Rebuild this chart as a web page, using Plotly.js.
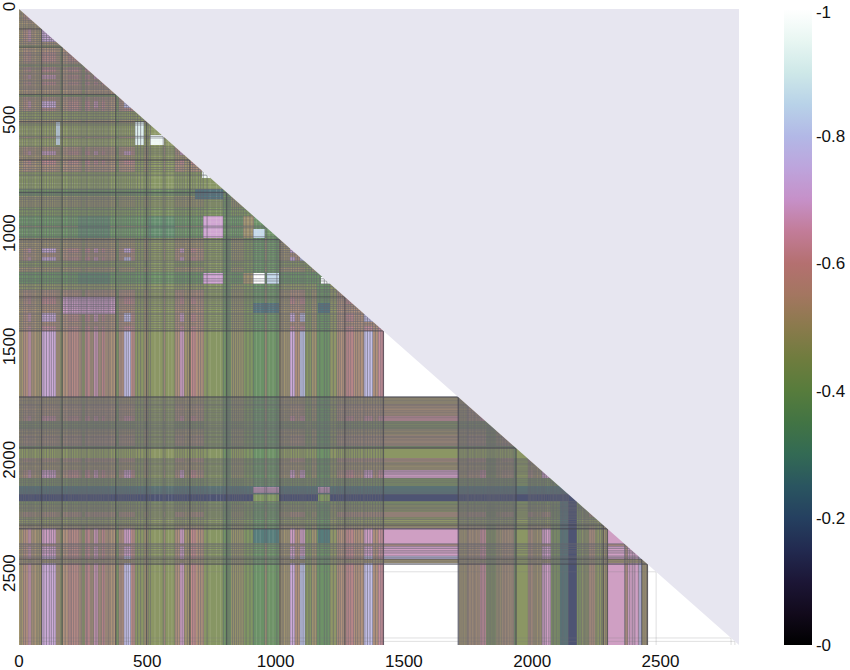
<!DOCTYPE html>
<html><head><meta charset="utf-8">
<script src="https://cdn.plot.ly/plotly-3.0.1.min.js"></script>
<style>html,body{margin:0;padding:0;background:#fff}#c{width:850px;height:670px}</style></head>
<body><div id="c"></div>
<script>
// Per-variable level: band ends and band values
const bandEnd=[17,36,49,69,88,144,160,173,192,231,244,257,277,290,309,322,335,355,374,387,409,435,452,487,504,562,569,608,627,644,666,686,718,796,822,874,913,958,965,1010,1056,1075,1095,1110,1140,1160,1212,1238,1270,1303,1342,1378,1400,1420,1712,1745,1797,1820,1855,1880,1927,1937,1985,2000,2037,2072,2108,2141,2173,2186,2219,2245,2277,2293,2360,2372,2414,2427,2449,2806];
const bandVal=[.5,.55,.65,.52,.5,.72,.52,.46,.54,.58,.53,.46,.6,.52,.66,.53,.6,.53,.53,.42,.55,.78,.58,.45,.5,.45,.55,.45,.54,.68,.5,.6,.54,.44,.38,.48,.42,.36,.5,.37,.5,.72,.54,.8,.44,.5,.37,.46,.54,.6,.54,.78,.54,.62,1,.5,.53,.62,.44,.5,.53,.4,.45,.54,.5,.68,.42,.27,.15,.42,.46,.54,.46,.5,.68,.56,.68,.78,.5,1];
// Blocks that depart from the band rule: row from, row to, column from, column to, value
const blockR0=[1165,1165,1165,1165,1165,913,913,913,913,1300,1300,1275,2114,2114,2143,2143,2298,2298,796,503,503,558,700,975,1185];
const blockR1=[1212,1212,1212,1212,1212,1010,1010,1010,1010,1338,1338,1345,2136,2136,2175,2175,2356,2356,840,600,600,600,745,1010,1212];
const blockC0=[718,874,913,965,231,718,874,504,231,913,1165,173,913,1165,913,1165,913,1165,686,452,147,512,714,913,1177];
const blockC1=[796,913,958,1010,355,796,913,608,355,1010,1212,370,1010,1212,1010,1212,1010,1212,796,487,160,562,780,958,1212];
const blockV=[.7,.5,1,.85,.33,.7,.5,.33,.33,.25,.25,.68,.68,.68,.42,.42,.27,.27,.25,.92,.86,.96,.97,.85,.98];
// Boundary lines of the matrix cells
const linesDark=[88,168,377,497,666,809,1017,1270,1420,1712,1937,2277,2293,2427,2449];
const linesMid=[8,18,26,36,43,50,58,70,79,97,107,118,126,135,144,152,160,180,192,199,205,213,222,231,238,244,250,257,263,268,277,284,290,297,303,309,316,322,329,335,343,349,355,366,387,394,401,409,418,426,435,444,452,462,474,487,504,512,562,569,608,617,627,636,644,656,677,686,699,708,718,733,796,815,822,832,840,848,856,865,874,885,900,913,958,965,1005,1025,1030,1040,1048,1056,1066,1075,1085,1095,1103,1110,1118,1130,1140,1150,1160,1172,1190,1200,1212,1225,1238,1245,1252,1262,1278,1285,1293,1303,1312,1320,1330,1342,1348,1358,1368,1378,1389,1400,1410,1716,1722,1727,1733,1739,1745,1748,1752,1758,1764,1770,1775,1780,1786,1792,1797,1802,1808,1814,1820,1825,1829,1834,1838,1843,1847,1851,1855,1860,1866,1870,1874,1880,1886,1890,1894,1900,1905,1911,1917,1922,1927,1932,1985,1990,1994,2000,2006,2011,2016,2024,2030,2037,2042,2048,2055,2065,2072,2078,2083,2089,2095,2101,2108,2113,2118,2122,2127,2132,2136,2141,2173,2180,2186,2192,2199,2204,2209,2214,2219,2225,2232,2238,2245,2252,2262,2270,2285,2360,2365,2372,2380,2390,2400,2414,2420,2436,2444];
const linesPale=[530,548,583,596,745,770,785,925,940,975,990];
const linesLight=[2360,2395,2483,2775,2790];
const xTicks=[0,500,1000,1500,2000,2500];
const yTicks=[0,500,1000,1500,2000,2500];
const barTicks=[.995,.8,.6,.4,.2,0];
const barText=['-1','-0.8','-0.6','-0.4','-0.2','-0'];
const helixPos=[0,.05,.1,.15,.2,.25,.3,.35,.4,.45,.5,.55,.6,.65,.7,.75,.8,.85,.9,.95,1];
const helixCol=['#000000','#120a1c','#1c1636','#222a50','#254060','#2a5560','#336a54','#427444','#577c3c','#6f7c3e','#8a7a4c','#a37660','#b47070','#c27c98','#c690c8','#bda4dc','#b2b8e6','#b8d2e8','#cee8e8','#e8f6f2','#ffffff'];

const N=2806, STEP=4, n=Math.ceil(N/STEP);
const level=new Array(n);
for(let k=0,b=0;k<n;k++){const m=(k+.5)*STEP;while(b<bandEnd.length-1&&m>bandEnd[b])b++;level[k]=bandVal[b];}
const z=[];
for(let i=0;i<n;i++){const r=new Array(n).fill(null);for(let j=0;j<=i+1&&j<n;j++)r[j]=Math.min(level[i],level[j]);z.push(r);}
blockV.forEach((v,q)=>{
  for(let i=Math.floor(blockR0[q]/STEP);i<Math.ceil(blockR1[q]/STEP)&&i<n;i++)
    for(let j=Math.floor(blockC0[q]/STEP);j<Math.ceil(blockC1[q]/STEP)&&j<=i;j++) z[i][j]=v;
});
function cross(list){const x=[],y=[];list.forEach(k=>{x.push(k,k,null,0,k,null);y.push(k,N,null,k,k,null);});return {x,y};}
function lineTrace(list,color,width){const c=cross(list);return {type:'scatter',mode:'lines',x:c.x,y:c.y,line:{color:color,width:width},hoverinfo:'skip',showlegend:false,connectgaps:false};}
const traces=[
 {type:'heatmap',z:z,x0:STEP/2,dx:STEP,y0:STEP/2,dy:STEP,zmin:0,zmax:1,zsmooth:false,hoverongaps:false,opacity:.8,
  colorscale:helixPos.map((p,i)=>[p,helixCol[i]]),
  colorbar:{thicknessmode:'pixels',thickness:28,lenmode:'fraction',len:1,y:.5,yanchor:'middle',ypad:0,xpad:0,
    x:(784-19)/720,xanchor:'left',outlinewidth:0,ticks:'',tickmode:'array',tickvals:barTicks,ticktext:barText,
    tickfont:{family:'Liberation Sans',size:17,color:'#111'},ticklabelposition:'outside'}},
 lineTrace(linesPale,'rgba(235,235,225,.2)',.8),
 lineTrace(linesLight,'rgba(120,120,125,.3)',.8),
 lineTrace(linesMid,'rgba(100,100,112,.55)',1.1),
 lineTrace(linesDark,'rgba(72,72,84,.75)',1.4),
 {type:'scatter',mode:'lines',x:[0,N,N,0],y:[0,0,N,0],fill:'toself',fillcolor:'#e7e6f0',line:{width:0,color:'#e7e6f0'},hoverinfo:'skip',showlegend:false}
];
const layout={width:850,height:670,margin:{l:19,r:111,t:9,b:25,pad:0},paper_bgcolor:'#fff',plot_bgcolor:'#fdfdfe',
 font:{family:'Liberation Sans',size:17,color:'#111'},showlegend:false,
 xaxis:{range:[0,N],tickmode:'array',tickvals:xTicks,ticktext:xTicks.map(String),showgrid:false,zeroline:false,showline:false,ticks:'outside',ticklen:1,tickwidth:1,tickcolor:'rgba(0,0,0,0)',side:'bottom',automargin:false},
 yaxis:{range:[N,0],tickmode:'array',tickvals:yTicks,ticktext:yTicks.map(String),showgrid:false,zeroline:false,showline:false,ticks:'',ticklen:0,tickangle:-90,automargin:false}};
Plotly.newPlot('c',traces,layout,{displayModeBar:false,staticPlot:true});
</script></body></html>
